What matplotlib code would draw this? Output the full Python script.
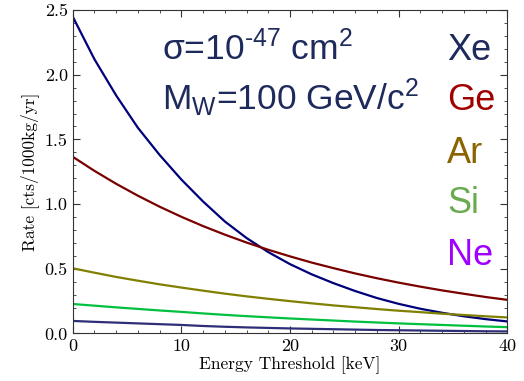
import matplotlib
matplotlib.use("Agg")
import matplotlib.pyplot as plt
from matplotlib.ticker import MultipleLocator

# Energy threshold grid [keV] and integrated rates [cts/1000kg/yr]
energy = [0, 2, 4, 6, 8, 10, 12, 14, 16, 18, 20, 22, 24, 26, 28, 30, 32, 34, 36, 38, 40]
rate_xe = [2.45, 2.12, 1.84, 1.59, 1.38, 1.19, 1.02, 0.866, 0.738, 0.629, 0.536,
           0.457, 0.389, 0.328, 0.274, 0.229, 0.191, 0.160, 0.133, 0.111, 0.093]
rate_ge = [1.366, 1.257, 1.157, 1.065, 0.980, 0.902, 0.830, 0.764, 0.703, 0.647, 0.596,
           0.548, 0.505, 0.464, 0.427, 0.393, 0.362, 0.333, 0.307, 0.282, 0.260]
rate_ar = [0.504, 0.470, 0.437, 0.408, 0.380, 0.355, 0.331, 0.308, 0.287, 0.268, 0.250,
           0.233, 0.217, 0.203, 0.189, 0.176, 0.165, 0.153, 0.143, 0.133, 0.124]
rate_si = [0.228, 0.215, 0.202, 0.190, 0.178, 0.167, 0.155, 0.144, 0.134, 0.125, 0.116,
           0.108, 0.100, 0.092, 0.085, 0.078, 0.072, 0.066, 0.060, 0.054, 0.049]
rate_ne = [0.097, 0.090, 0.084, 0.078, 0.072, 0.066, 0.058, 0.052, 0.047, 0.043, 0.039,
           0.036, 0.033, 0.030, 0.027, 0.025, 0.023, 0.021, 0.019, 0.017, 0.016]

targets = ["Xe", "Ge", "Ar", "Si", "Ne"]

plt.rcParams["font.family"] = "serif"
plt.rcParams["font.serif"] = ["cmr10", "DejaVu Serif"]
plt.rcParams["mathtext.fontset"] = "custom"
plt.rcParams["mathtext.rm"] = "Liberation Sans"
plt.rcParams["mathtext.it"] = "Liberation Sans"
plt.rcParams["mathtext.bf"] = "Liberation Sans"

fig = plt.figure(figsize=(5.24, 3.81), dpi=100)
ax = fig.add_axes([0.1387, 0.1247, 0.8295, 0.849])

line_colors = ["#00007a", "#7a0000", "#808000", "#00c040", "#2e2e78"]
for rates, c in zip([rate_xe, rate_ge, rate_ar, rate_si, rate_ne], line_colors):
    ax.plot(energy, rates, color=c, lw=1.6)

ax.set_xlim(0, 40)
ax.set_ylim(0, 2.5)
ax.xaxis.set_major_locator(MultipleLocator(10))
ax.xaxis.set_minor_locator(MultipleLocator(2))
ax.yaxis.set_major_locator(MultipleLocator(0.5))
ax.yaxis.set_minor_locator(MultipleLocator(0.1))
ax.yaxis.set_major_formatter(plt.FormatStrFormatter("%.1f"))
ax.tick_params(which="both", direction="in", top=True, right=True, color="#333333")
ax.tick_params(which="major", length=5, labelsize=13)
ax.tick_params(which="minor", length=2.5)
for s in ax.spines.values():
    s.set_color("#333333")

ax.set_xlabel("Energy Threshold [keV]", fontsize=12.5, labelpad=2)
ax.set_ylabel("Rate [cts/1000kg/yr]", fontsize=12.5, labelpad=4)

# annotations
txt_color = "#1f2a5c"
ax.text(8.2, 2.113, "σ=10$^{\\text{-47}}$ cm$^{2}$", fontsize=25.5, color=txt_color,
        family="Liberation Sans", va="baseline", ha="left")
ax.text(8.2, 1.727, "M$_{\\mathrm{W}}$=100 GeV/c$^{2}$", fontsize=25.5, color=txt_color,
        family="Liberation Sans", va="baseline", ha="left")

label_colors = ["#1f2a5c", "#a00000", "#8b6400", "#6aaa50", "#a000ff"]
label_y = [2.113, 1.727, 1.315, 0.929, 0.529]
for name, c, y in zip(targets, label_colors, label_y):
    ax.text(34.45, y, name, fontsize=26, color=c, family="Liberation Sans",
            va="baseline", ha="left")

fig.savefig("out.png", dpi=100)
